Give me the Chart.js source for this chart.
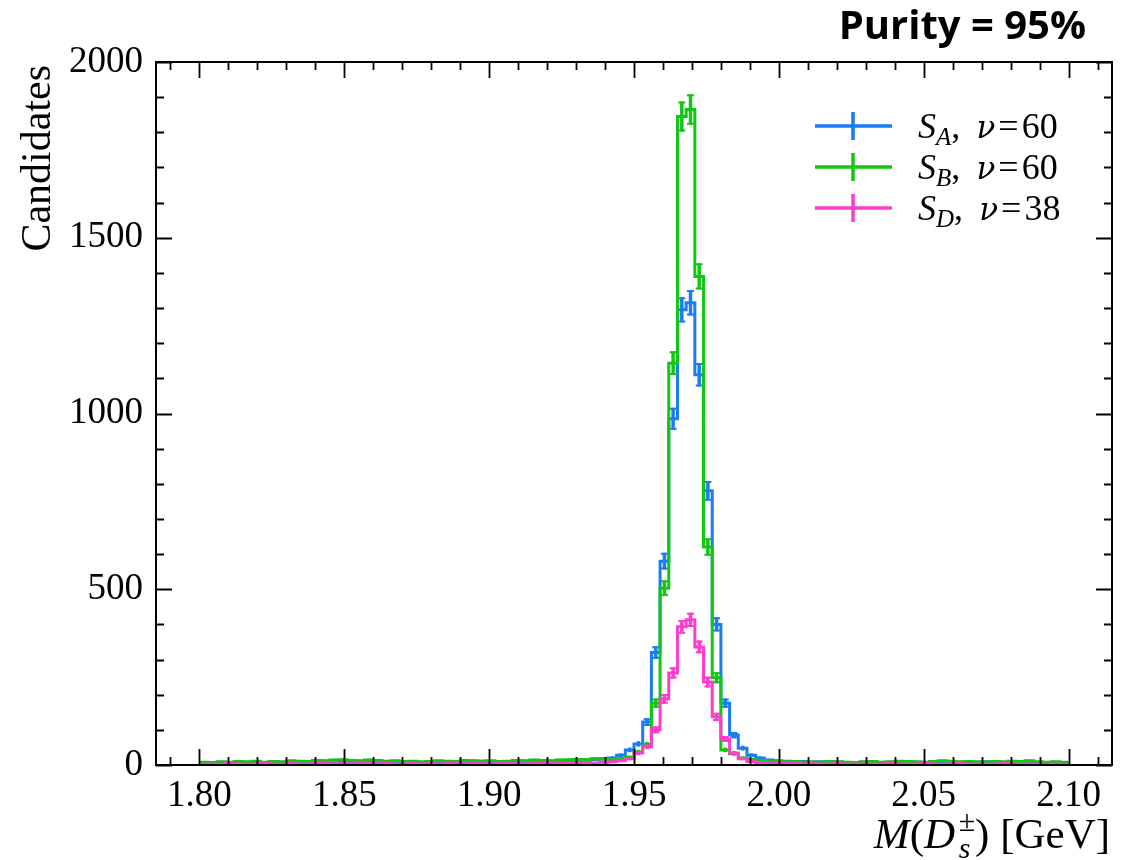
<!DOCTYPE html>
<html>
<head>
<meta charset="utf-8">
<script src="https://cdn.jsdelivr.net/npm/chart.js@4.4.1/dist/chart.umd.min.js"></script>
<style>
	body { margin: 0; background: #fff; }
	#wrap { width: 1127px; height: 860px; }
</style>
</head>
<body>
<div id="wrap"><canvas id="massChart" width="1127" height="860"></canvas></div>
<script>
// binning of the histogram: 100 bins of 3 MeV from 1.80 to 2.10 GeV
const binLow = 1.80;
const binWidth = 0.003;

const countsA = [
	5, 4, 6, 5, 7, 4, 6, 5, 8, 6,
	7, 9, 5, 6, 8, 6, 9, 7, 6, 8,
	10, 7, 9, 8, 6, 7, 8, 10, 9, 7,
	8, 9, 11, 8, 7, 9, 10, 8, 9, 11,
	10, 12, 11, 13, 14, 16, 18, 20, 28, 43,
	60, 122, 320, 580, 985, 1295, 1315, 1110, 780, 400,
	176, 85, 48, 28, 20, 14, 12, 11, 9, 10,
	8, 9, 7, 8, 6, 7, 8, 6, 7, 5,
	6, 7, 5, 6, 8, 6, 7, 6, 8, 7,
	9, 8, 6, 7, 8, 6, 5, 6, 7, 6
];
const countsB = [
	8, 7, 9, 8, 10, 9, 11, 8, 10, 9,
	12, 11, 10, 13, 12, 14, 15, 13, 12, 14,
	13, 11, 12, 10, 11, 9, 10, 12, 11, 10,
	13, 12, 11, 12, 10, 11, 13, 12, 14, 13,
	12, 14, 15, 16, 15, 18, 17, 15, 18, 22,
	37, 58, 176, 503, 1143, 1845, 1865, 1390, 620, 248,
	43, 32, 20, 16, 13, 11, 10, 9, 10, 8,
	9, 8, 10, 9, 8, 7, 9, 10, 8, 9,
	11, 10, 9, 8, 10, 12, 11, 9, 10, 9,
	8, 10, 9, 11, 10, 12, 9, 8, 9, 8
];
const countsD = [
	2, 3, 2, 4, 3, 2, 3, 4, 3, 2,
	4, 3, 3, 5, 4, 3, 4, 3, 5, 4,
	3, 4, 3, 2, 4, 3, 4, 3, 4, 5,
	3, 4, 4, 3, 5, 4, 4, 3, 5, 4,
	5, 6, 5, 6, 7, 6, 8, 9, 12, 18,
	34, 52, 100, 188, 262, 393, 413, 336, 236, 137,
	74, 34, 18, 10, 7, 6, 5, 4, 4, 3,
	4, 3, 3, 4, 2, 3, 3, 2, 3, 4,
	3, 2, 3, 4, 3, 2, 3, 4, 3, 3,
	2, 3, 4, 3, 2, 3, 3, 2, 3, 2
];

const xTicks = [1.80, 1.85, 1.90, 1.95, 2.00, 2.05, 2.10];
const yTicks = [0, 500, 1000, 1500, 2000];

const seriesCounts = [countsA, countsB, countsD];
const seriesSub = ['A', 'B', 'D'];
const seriesNu = ['60', '60', '38'];
const seriesColors = ['#1a7cf7', '#12c612', '#ff3dcc'];

const serif = '"Liberation Serif", "DejaVu Serif", serif';

function stepPoints(counts) {
	let pts = counts.map(function (v, i) {
		return {x: binLow + i * binWidth, y: v};
	});
	pts.push({x: binLow + counts.length * binWidth, y: counts[counts.length - 1]});
	return pts;
}

// draw a run of text pieces (italic / sub / sup) ending or starting at x
function drawRuns(ctx, runs, x, y, align) {
	let total = 0;
	runs.forEach(function (r) {
		ctx.font = r.font;
		r.w = ctx.measureText(r.text).width;
		if (!r.keep) total += r.w;
	});
	let cx = align === 'right' ? x - total : x;
	ctx.textAlign = 'left';
	ctx.textBaseline = 'alphabetic';
	runs.forEach(function (r) {
		ctx.font = r.font;
		ctx.fillText(r.text, cx, y + (r.dy || 0));
		if (!r.keep) cx += r.w;
	});
}

const errorBars = {
	id: 'errorBars',
	afterDatasetDraw(chart, args) {
		const counts = seriesCounts[args.index];
		const {ctx, chartArea: a} = chart;
		const xs = chart.scales.x, ys = chart.scales.y;
		ctx.save();
		ctx.beginPath();
		ctx.rect(a.left, a.top, a.right - a.left, a.bottom - a.top);
		ctx.clip();
		ctx.strokeStyle = seriesColors[args.index];
		counts.forEach(function (v, i) {
			if (v <= 0) return;
			const err = Math.sqrt(v);
			const px = xs.getPixelForValue(binLow + (i + 0.5) * binWidth);
			const top = ys.getPixelForValue(v + err);
			const bot = ys.getPixelForValue(Math.max(v - err, 0));
			ctx.lineWidth = 3.5;
			ctx.beginPath();
			ctx.moveTo(px, top);
			ctx.lineTo(px, bot);
			ctx.stroke();
			if (bot - top > 6) {
				ctx.lineWidth = 2;
				ctx.beginPath();
				ctx.moveTo(px - 3.5, top + 1);
				ctx.lineTo(px + 3.5, top + 1);
				ctx.moveTo(px - 3.5, bot - 1);
				ctx.lineTo(px + 3.5, bot - 1);
				ctx.stroke();
			}
		});
		ctx.restore();
	}
};

const frameAndText = {
	id: 'frameAndText',
	afterDraw(chart) {
		const {ctx, chartArea: a} = chart;
		const xs = chart.scales.x, ys = chart.scales.y;
		ctx.save();
		ctx.strokeStyle = '#000';
		ctx.lineWidth = 2;
		ctx.strokeRect(a.left, a.top, a.right - a.left, a.bottom - a.top);

		// inward ticks on all four sides
		ctx.lineWidth = 1.8;
		ctx.beginPath();
		for (let k = 179; k <= 211; k++) {
			const px = Math.round(xs.getPixelForValue(k / 100)) + 0.5;
			const len = k % 5 === 0 ? 16 : 8;
			ctx.moveTo(px, a.bottom);
			ctx.lineTo(px, a.bottom - len);
			ctx.moveTo(px, a.top);
			ctx.lineTo(px, a.top + len);
		}
		for (let k = 0; k <= 20; k++) {
			const py = Math.round(ys.getPixelForValue(k * 100)) + 0.5;
			const len = k % 5 === 0 ? 16 : 8;
			ctx.moveTo(a.left, py);
			ctx.lineTo(a.left + len, py);
			ctx.moveTo(a.right, py);
			ctx.lineTo(a.right - len, py);
		}
		ctx.stroke();

		ctx.fillStyle = '#000';
		// y axis title, aligned to the top
		ctx.save();
		ctx.translate(50, a.top + 3);
		ctx.rotate(-Math.PI / 2);
		ctx.font = '42px ' + serif;
		ctx.textAlign = 'right';
		ctx.textBaseline = 'alphabetic';
		ctx.fillText('Candidates', 0, 0);
		ctx.restore();

		// x axis title, aligned to the right
		drawRuns(ctx, [
			{text: 'M', font: 'italic 43px ' + serif},
			{text: '(', font: '43px ' + serif},
			{text: 'D', font: 'italic 43px ' + serif},
			{text: '\u200a', font: '43px ' + serif},
			{text: 's', font: 'italic 30px ' + serif, dy: 10, keep: true},
			{text: '\u00b1', font: '30px ' + serif, dy: -17},
			{text: ')', font: '43px ' + serif},
			{text: ' [GeV]', font: '43px ' + serif}
		], a.right - 2, 848, 'right');

		// legend
		seriesColors.forEach(function (c, i) {
			const cy = 126 + i * 41;
			ctx.strokeStyle = c;
			ctx.lineWidth = 3.5;
			ctx.beginPath();
			ctx.moveTo(815, cy);
			ctx.lineTo(892, cy);
			ctx.moveTo(853, cy - 14);
			ctx.lineTo(853, cy + 14);
			ctx.stroke();
			ctx.fillStyle = '#000';
			drawRuns(ctx, [
				{text: 'S', font: 'italic 36px ' + serif},
				{text: seriesSub[i], font: 'italic 25px ' + serif, dy: 7},
				{text: ', \u2009', font: '36px ' + serif},
				{text: '\u03bd', font: 'italic 31px "DejaVu Serif", serif'},
				{text: '\u200a=\u200a', font: '36px ' + serif},
				{text: seriesNu[i], font: '36px ' + serif}
			], 918, cy + 12, 'left');
		});

		// purity label above the frame
		ctx.fillStyle = '#000';
		ctx.font = 'bold 40px "Open Sans", "Liberation Sans", sans-serif';
		ctx.textAlign = 'right';
		ctx.textBaseline = 'alphabetic';
		ctx.fillText('Purity = 95%', 1086, 39);
		ctx.restore();
	}
};

const massChart = new Chart(document.getElementById('massChart'), {
	type: 'line',
	data: {
		datasets: seriesCounts.map(function (counts, i) {
			return {
				label: 'S' + seriesSub[i],
				data: stepPoints(counts),
				borderColor: seriesColors[i],
				borderWidth: 3,
				stepped: 'before',
				pointRadius: 0,
				fill: false,
				order: 2 - i
			};
		})
	},
	options: {
		responsive: false,
		animation: false,
		layout: {padding: {top: 62, right: 15, left: 0, bottom: 0}},
		plugins: {
			legend: {display: false},
			tooltip: {enabled: false}
		},
		scales: {
			x: {
				type: 'linear',
				min: 1.785,
				max: 2.115,
				grid: {display: false, drawTicks: false},
				border: {display: false},
				afterBuildTicks: function (scale) {
					scale.ticks = xTicks.map(function (v) { return {value: v}; });
				},
				afterFit: function (scale) {
					scale.height = 95;
				},
				ticks: {
					autoSkip: false,
					maxRotation: 0,
					padding: 9,
					color: '#000',
					font: {family: serif, size: 37},
					callback: function (v) { return Number(v).toFixed(2); }
				}
			},
			y: {
				type: 'linear',
				min: 0,
				max: 2000,
				grid: {display: false, drawTicks: false},
				border: {display: false},
				afterBuildTicks: function (scale) {
					scale.ticks = yTicks.map(function (v) { return {value: v}; });
				},
				afterFit: function (scale) {
					scale.width = 156;
				},
				ticks: {
					autoSkip: false,
					padding: 13,
					color: '#000',
					font: {family: serif, size: 37},
					callback: function (v) { return String(v); }
				}
			}
		}
	},
	plugins: [errorBars, frameAndText]
});
</script>
</body>
</html>
